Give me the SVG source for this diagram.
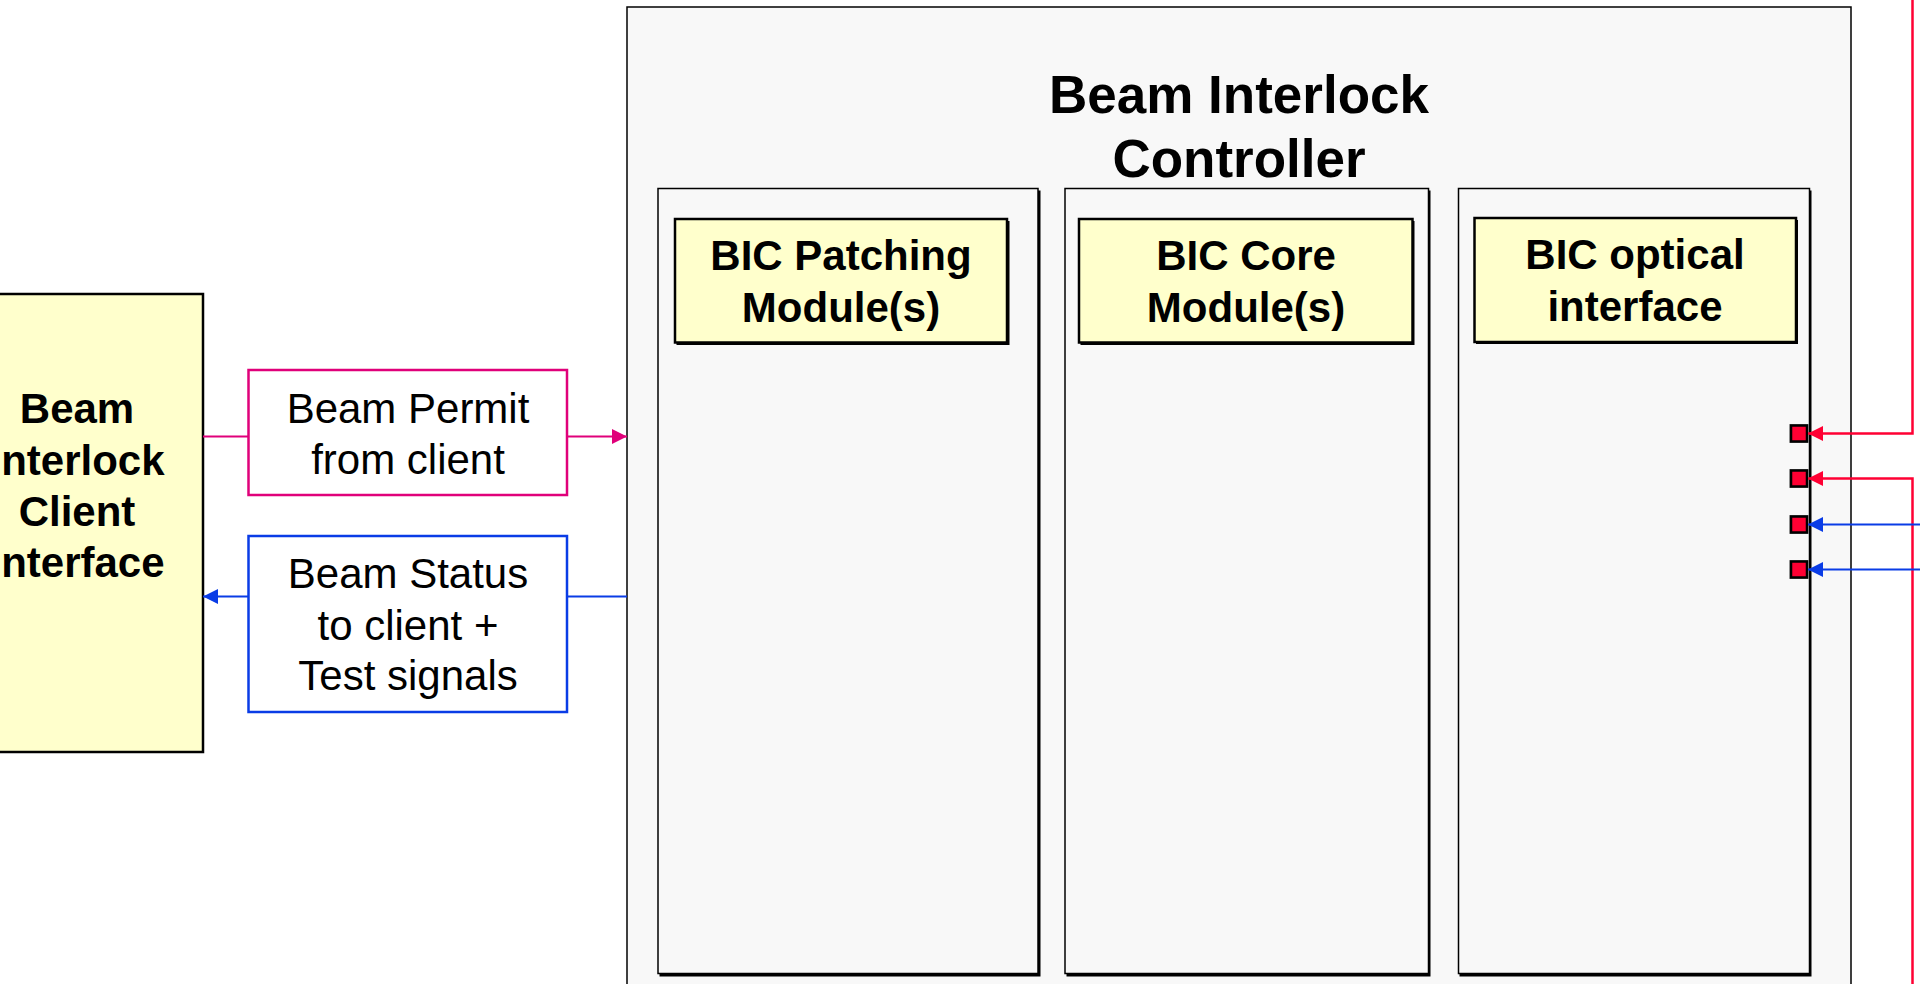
<svg xmlns="http://www.w3.org/2000/svg" width="1920" height="984" viewBox="0 0 1920 984">
<defs>
<style>
.t{font-family:"Liberation Sans",Arial,sans-serif;text-anchor:middle;fill:#000}
.b{font-weight:bold}
.yel{fill:#FFFFCC;stroke:#000;stroke-width:2.5}
.col{fill:#F8F8F8;stroke:#000;stroke-width:1.5}
.sh{fill:#000}
.pink{stroke:#E0007A;stroke-width:2;fill:none}
.blue{stroke:#0A3CE6;stroke-width:2;fill:none}
.red{stroke:#FF0033;stroke-width:2.5;fill:none}
.sqs{fill:#888}
.sq{fill:#FF0033;stroke:#000;stroke-width:2.5}
</style>
<marker id="aPink" markerUnits="userSpaceOnUse" markerWidth="15" markerHeight="15" refX="15" refY="7.5" orient="auto"><path d="M0,0 L15,7.5 L0,15 z" fill="#E0007A"/></marker>
<marker id="aBlue" markerUnits="userSpaceOnUse" markerWidth="15" markerHeight="15" refX="15" refY="7.5" orient="auto"><path d="M0,0 L15,7.5 L0,15 z" fill="#0A3CE6"/></marker>
<marker id="aRed" markerUnits="userSpaceOnUse" markerWidth="15" markerHeight="15" refX="15" refY="7.5" orient="auto"><path d="M0,0 L15,7.5 L0,15 z" fill="#FF0033"/></marker>
</defs>
<rect width="1920" height="984" fill="#fff"/>

<g id="bic">
<rect x="627" y="7" width="1224" height="990" fill="#F8F8F8" stroke="#000" stroke-width="1.5"/>
<text class="t b" font-size="53" x="1239" y="113">Beam Interlock</text>
<text class="t b" font-size="53" x="1239" y="177">Controller</text>
</g>

<g id="col-patching">
<rect class="sh" x="659.5" y="190.5" width="381" height="786"/>
<rect class="col" x="658" y="188.5" width="380" height="785"/>
<rect class="sh" x="676.5" y="221" width="333" height="124"/>
<rect class="yel" x="675" y="219" width="332" height="123.5"/>
<text class="t b" font-size="42" x="841" y="270">BIC Patching</text>
<text class="t b" font-size="42" x="841" y="322">Module(s)</text>
</g>

<g id="col-core">
<rect class="sh" x="1066.5" y="190.5" width="364" height="786"/>
<rect class="col" x="1065" y="188.5" width="363.5" height="785"/>
<rect class="sh" x="1080.5" y="221" width="334" height="124"/>
<rect class="yel" x="1079" y="219" width="333.5" height="123.5"/>
<text class="t b" font-size="42" x="1246" y="270">BIC Core</text>
<text class="t b" font-size="42" x="1246" y="322">Module(s)</text>
</g>

<g id="col-optical">
<rect class="sh" x="1459.5" y="190.5" width="352" height="786"/>
<rect class="col" x="1458.5" y="188.5" width="351" height="785"/>
<rect class="sh" x="1476" y="220" width="322" height="124"/>
<rect class="yel" x="1474.5" y="218" width="321.5" height="124"/>
<text class="t b" font-size="42" x="1635" y="269">BIC optical</text>
<text class="t b" font-size="42" x="1635" y="321">interface</text>
</g>

<g id="client">
<rect x="-50" y="294" width="253" height="458" fill="#FFFFCC" stroke="#000" stroke-width="2.5"/>
<text class="t b" font-size="42" x="77" y="423">Beam</text>
<text class="t b" font-size="42" x="77" y="475">Interlock</text>
<text class="t b" font-size="42" x="77" y="526">Client</text>
<text class="t b" font-size="42" x="77" y="577">Interface</text>
</g>

<g id="permit">
<rect x="248.5" y="370" width="318.5" height="125" fill="#fff" stroke="#E0007A" stroke-width="2.5"/>
<text class="t" font-size="42" x="408" y="423">Beam Permit</text>
<text class="t" font-size="42" x="408" y="474">from client</text>
</g>

<g id="status">
<rect x="248.5" y="536" width="318.5" height="176" fill="#fff" stroke="#0A3CE6" stroke-width="2.5"/>
<text class="t" font-size="42" x="408" y="588">Beam Status</text>
<text class="t" font-size="42" x="408" y="640">to client +</text>
<text class="t" font-size="42" x="408" y="690">Test signals</text>
</g>

<g id="ports">
<rect class="sqs" x="1789.5" y="424" width="19" height="19"/>
<rect class="sqs" x="1789.5" y="469" width="19" height="19"/>
<rect class="sqs" x="1789.5" y="515" width="19" height="19"/>
<rect class="sqs" x="1789.5" y="560" width="19" height="19"/>
<rect class="sq" x="1791" y="425.5" width="16" height="16"/>
<rect class="sq" x="1791" y="470.5" width="16" height="16"/>
<rect class="sq" x="1791" y="516.5" width="16" height="16"/>
<rect class="sq" x="1791" y="561.5" width="16" height="16"/>
</g>

<g id="connectors">
<line class="pink" x1="203" y1="436.5" x2="248.5" y2="436.5"/>
<line class="pink" x1="567" y1="436.5" x2="627" y2="436.5" marker-end="url(#aPink)"/>
<line class="blue" x1="627" y1="596.5" x2="567" y2="596.5"/>
<line class="blue" x1="248.5" y1="596.5" x2="203" y2="596.5" marker-end="url(#aBlue)"/>
<polyline class="red" points="1912.5,0 1912.5,433.5 1808,433.5" marker-end="url(#aRed)"/>
<polyline class="red" points="1912.5,984 1912.5,478.5 1808,478.5" marker-end="url(#aRed)"/>
<line class="blue" stroke-width="2.5" x1="1920" y1="524.5" x2="1808" y2="524.5" marker-end="url(#aBlue)"/>
<line class="blue" stroke-width="2.5" x1="1920" y1="569.5" x2="1808" y2="569.5" marker-end="url(#aBlue)"/>
</g>
</svg>
